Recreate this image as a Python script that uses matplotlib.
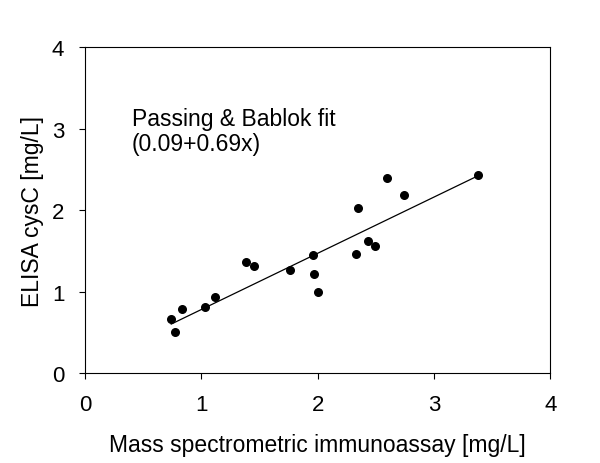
import matplotlib.pyplot as plt
import numpy as np

plt.rcParams['font.family'] = ['Liberation Sans', 'DejaVu Sans']

ms_x = [0.74, 0.77, 0.83, 1.03, 1.12, 1.38, 1.45, 1.76, 1.96, 1.97,
        2.00, 2.33, 2.35, 2.43, 2.49, 2.60, 2.74, 3.38]
elisa_y = [0.66, 0.50, 0.79, 0.81, 0.93, 1.36, 1.31, 1.27, 1.45, 1.21,
           0.99, 1.46, 2.02, 1.62, 1.56, 2.40, 2.18, 2.43]
fit_a = 0.09
fit_b = 0.69
ticks = [0, 1, 2, 3, 4]

fig = plt.figure(figsize=(6, 4.64), dpi=100)
ax = fig.add_axes([0.142, 0.194, 0.775, 0.702])

xs = np.array([min(ms_x), max(ms_x)])
ax.plot(xs, fit_a + fit_b * xs, color="black", lw=0.9)
ax.scatter(ms_x, elisa_y, s=30, color="black", zorder=3)

ax.set_xlim(0, 4)
ax.set_ylim(0, 4)
ax.set_xticks(ticks)
ax.set_yticks(ticks)
ax.tick_params(direction="out", length=4, width=0.8, labelsize=16, pad=11)
for s in ax.spines.values():
    s.set_linewidth(0.8)

ax.set_xlabel("Mass spectrometric immunoassay [mg/L]", fontsize=16.5, labelpad=13)
ax.set_ylabel("ELISA cysC [mg/L]", fontsize=16.5, labelpad=6)

ax.text(0.40, 2.97, "Passing & Bablok fit\n(0.09+0.69x)", fontsize=16.5,
        va="center", ha="left", linespacing=1.1)

fig.savefig("out.png", dpi=100)
